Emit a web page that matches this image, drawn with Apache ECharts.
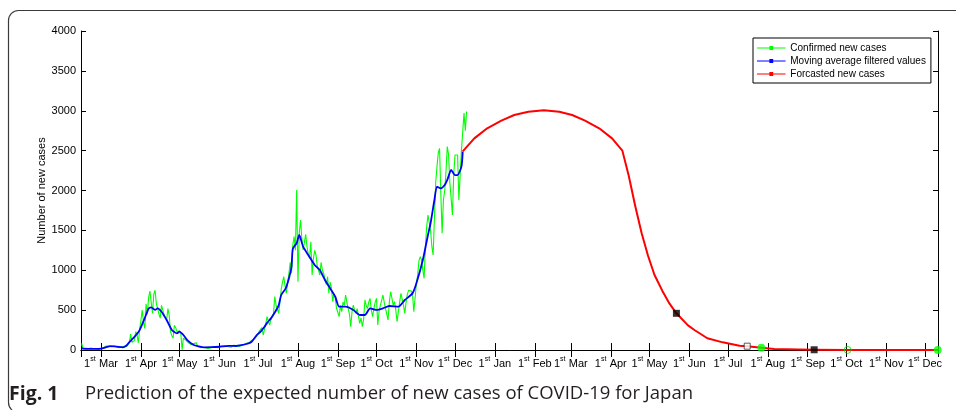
<!DOCTYPE html>
<html><head><meta charset="utf-8">
<script src="https://cdn.jsdelivr.net/npm/echarts@6/dist/echarts.min.js"></script>
<style>html,body{margin:0;padding:0;background:#fff}#c{width:956px;height:410px}</style>
</head><body><div id="c"></div>
<script>
// ---------- DATA ----------
const seriesNames = ['Confirmed new cases', 'Moving average filtered values', 'Forcasted new cases'];
const monthNames = ['Jan','Feb','Mar','Apr','May','Jun','Jul','Aug','Sep','Oct','Nov','Dec'];
const yTicks = [0, 500, 1000, 1500, 2000, 2500, 3000, 3500, 4000];

// daily confirmed new cases, starting 2020-02-15
const confirmedStart = [2020, 2, 15];
const confirmed = [
  84,12,20,10,18,15,20,25,12,18,22,15,20,10,18,
  15,25,30,35,50,60,45,55,40,35,50,60,40,45,30,20,40,35,45,40,45,40,90,200,95,100,120,230,190,90,260,
  370,500,350,270,580,450,660,740,600,460,700,750,580,520,450,400,560,580,440,440,380,520,430,230,180,150,310,280,230,210,
  240,200,5,150,130,120,104,90,100,70,60,80,55,90,50,45,30,25,35,40,30,25,20,15,25,35,40,55,35,45,30,
  35,50,40,45,30,55,45,40,60,35,50,60,45,55,50,40,60,55,65,70,60,85,75,90,110,120,105,140,120,170,
  200,240,220,280,188,260,330,418,360,313,380,420,460,669,560,520,460,600,760,850,919,800,711,850,962,1100,962,1317,1421,1250,2006,
  857,1463,1630,1400,1254,1350,1450,1300,1200,1150,1358,940,1150,1250,1191,1050,1000,940,1100,1000,960,878,820,919,711,850,780,606,700,650,520,
  470,418,560,480,600,560,690,600,520,450,292,480,564,500,460,520,420,334,400,292,380,627,560,520,600,648,500,418,520,600,
  648,313,480,560,620,690,600,520,450,376,600,731,650,560,606,500,355,480,600,711,690,560,460,600,700,750,773,740,700,480,460,
  830,940,1120,1170,1130,1000,899,1300,1546,1693,1693,1500,1300,1191,1650,2100,2300,2470,2529,1950,1463,1880,2000,2236,2550,2450,2100,1900,1693,2200,
  2445,2420,2445,1880,1900,2500,2740,2970,2750,2990
];

// moving average filtered values
const avgDates = ['2020-02-15','2020-02-20','2020-02-25','2020-03-01','2020-03-05','2020-03-08','2020-03-13','2020-03-18','2020-03-21','2020-03-23',
  '2020-03-27','2020-03-31','2020-04-04','2020-04-07','2020-04-09','2020-04-12','2020-04-14','2020-04-17','2020-04-21','2020-04-25',
  '2020-04-29','2020-05-01','2020-05-04','2020-05-07','2020-05-12','2020-05-16','2020-05-20','2020-05-26','2020-06-01','2020-06-08',
  '2020-06-14','2020-06-18','2020-06-22','2020-06-26','2020-06-30','2020-07-03','2020-07-06','2020-07-08','2020-07-11','2020-07-14',
  '2020-07-17','2020-07-19','2020-07-22','2020-07-23','2020-07-25','2020-07-27','2020-07-28','2020-07-31','2020-08-02','2020-08-05',
  '2020-08-09','2020-08-14','2020-08-18','2020-08-22','2020-08-26','2020-08-30','2020-09-02','2020-09-07','2020-09-13','2020-09-18',
  '2020-09-22','2020-09-26','2020-10-01','2020-10-06','2020-10-11','2020-10-18','2020-10-23','2020-10-29','2020-11-01','2020-11-06',
  '2020-11-10','2020-11-12','2020-11-15','2020-11-17','2020-11-20','2020-11-23','2020-11-25','2020-11-28','2020-12-01','2020-12-03',
  '2020-12-06','2020-12-07'];
const avgValues = [20,15,14,18,35,48,42,33,60,100,
  165,250,400,520,535,502,522,480,376,251,
  209,230,188,125,63,45,33,35,41,52,
  50,60,75,104,188,230,292,340,397,470,
  560,690,760,794,900,1045,1270,1340,1442,1295,
  1191,1066,1003,878,773,669,543,543,502,439,
  439,522,502,522,552,543,627,710,836,1129,
  1442,1589,1881,2048,2027,2069,2132,2257,2194,2194,
  2299,2487];

// forecasted new cases
const fcDates = ['2020-12-07','2020-12-16','2020-12-26','2021-01-06','2021-01-16','2021-01-27','2021-02-08','2021-02-20','2021-03-02','2021-03-12',
  '2021-03-23','2021-04-02','2021-04-10','2021-04-15','2021-04-20','2021-04-25','2021-04-30','2021-05-05','2021-05-11','2021-05-16',
  '2021-05-22','2021-05-31','2021-06-05','2021-06-15','2021-06-27','2021-07-10','2021-07-16','2021-07-27','2021-08-06','2021-08-25',
  '2021-09-06','2021-10-02','2021-11-01','2021-12-11'];
const fcValues = [2490,2654,2780,2876,2947,2988,3005,2988,2947,2876,
  2780,2654,2500,2182,1806,1463,1179,940,744,598,
  460,309,251,147,96,54,48,29,14,5,
  3,1,0,0];

// highlighted points on the forecast
const markDates = ['2021-05-22','2021-07-16','2021-07-27','2021-09-06','2021-10-02','2021-12-11'];
const markValues = [460, 48, 29, 3, 1, 0];
const markKinds = ['blackSquare','openSquare','greenDot','blackSquare','openCircle','greenDot'];

// ---------- CHART ----------
function parseD(s){ const p = s.split('-').map(Number); return new Date(p[0], p[1]-1, p[2]).getTime(); }
const confirmedData = confirmed.map((v,i)=>[new Date(confirmedStart[0], confirmedStart[1]-1, confirmedStart[2]+i).getTime(), v]);
const avgData = avgDates.map((d,i)=>[parseD(d), avgValues[i]]);
const fcData = fcDates.map((d,i)=>[parseD(d), fcValues[i]]);
const kindStyle = {
  blackSquare: {symbol:'rect', symbolSize:7, itemStyle:{color:'#000', borderColor:'#000', borderWidth:0}},
  openSquare: {symbol:'rect', symbolSize:6, itemStyle:{color:'#fff', borderColor:'#333', borderWidth:1}},
  greenDot: {symbol:'circle', symbolSize:8, itemStyle:{color:'#00ff00', borderColor:'#00ff00', borderWidth:0}},
  openCircle: {symbol:'circle', symbolSize:7, itemStyle:{color:'rgba(255,255,255,0)', borderColor:'#00dd00', borderWidth:1}}
};
const markData = markDates.map((d,i)=>Object.assign({value:[parseD(d), markValues[i]]}, kindStyle[markKinds[i]]));

const DAY = 86400000;
const xMin = new Date(2020, 1, 14, 11).getTime();
const xMax = new Date(2021, 11, 11, 5).getTime();
const FONT = '"Liberation Sans", Arial, sans-serif';

function xLabel(v){
  const d = new Date(v);
  if (d.getDate() !== 1 || d.getHours() !== 0) return '';
  return '{n|1}{s|st} {n|' + monthNames[d.getMonth()] + '}';
}
const legendIcon = 'path://M0,1.6H13V0H17V1.6H30V2.6H17V4.2H13V2.6H0Z';

const xAxisBase = {
  type:'time', min:xMin, max:xMax, minInterval:28*DAY, maxInterval:31*DAY,
  splitLine:{show:false},
  axisLine:{show:true, lineStyle:{color:'#000', width:1}},
  axisTick:{show:true, inside:true, length:7, lineStyle:{color:'#000'}}
};
const yAxisBase = {
  type:'value', min:yTicks[0], max:yTicks[yTicks.length-1], interval:yTicks[1]-yTicks[0],
  splitLine:{show:false},
  axisLine:{show:true, lineStyle:{color:'#000', width:1}},
  axisTick:{show:true, inside:true, length:5, lineStyle:{color:'#000'}}
};

const chart = echarts.init(document.getElementById('c'), null, {renderer:'canvas'});
chart.setOption({
  animation:false,
  backgroundColor:'#fff',
  textStyle:{fontFamily:FONT},
  grid:{left:81, right:18, top:31, bottom:60, containLabel:false},
  legend:{
    data:seriesNames, orient:'vertical', left:753, top:38,
    backgroundColor:'#fff', borderColor:'#000', borderWidth:1, borderRadius:0,
    padding:[4,5,3,4], itemGap:1, itemWidth:30, itemHeight:4, icon:legendIcon,
    textStyle:{fontFamily:FONT, fontSize:10, color:'#000', lineHeight:12, padding:[0,0,0,-1]},
    selectedMode:false
  },
  xAxis:[
    Object.assign({}, xAxisBase, {position:'bottom', axisLabel:{show:true, formatter:xLabel, hideOverlap:false, margin:6, color:'#000',
      rich:{n:{fontSize:11, fontFamily:FONT, color:'#000', lineHeight:13, verticalAlign:'bottom'},
            s:{fontSize:7, fontFamily:FONT, color:'#000', lineHeight:13, verticalAlign:'top'}}}}),
    Object.assign({}, xAxisBase, {position:'top', axisLabel:{show:false}})
  ],
  yAxis:[
    Object.assign({}, yAxisBase, {position:'left', name:'Number of new cases', nameLocation:'middle', nameGap:34, nameMoveOverlap:false,
      nameTextStyle:{fontSize:11, color:'#000', fontFamily:FONT},
      axisLabel:{show:true, fontSize:11, color:'#000', margin:5, fontFamily:FONT, formatter:(v)=>String(v)}}),
    Object.assign({}, yAxisBase, {position:'right', axisLabel:{show:false}})
  ],
  series:[
    {name:seriesNames[0], type:'line', data:confirmedData, showSymbol:false, symbol:'none', z:2,
      lineStyle:{color:'#00ff00', width:1.1}, itemStyle:{color:'#00ff00'}},
    {name:seriesNames[1], type:'line', data:avgData, showSymbol:false, symbol:'none', smooth:0.2, z:3,
      lineStyle:{color:'#0000ff', width:1.8}, itemStyle:{color:'#0000ff'}},
    {name:seriesNames[2], type:'line', data:fcData, showSymbol:false, symbol:'none', smooth:false, z:3,
      lineStyle:{color:'#ff0000', width:2, join:'round'}, itemStyle:{color:'#ff0000'}},
    {name:'markers', type:'scatter', data:markData, z:6, clip:false}
  ],
  graphic:[
    {type:'rect', shape:{x:8.5, y:10.5, width:1000, height:402, r:10}, silent:true, z:-1,
      style:{fill:'none', stroke:'#3a3a3a', lineWidth:1.2}},
    {type:'text', left:9, top:384, silent:true,
      style:{text:'Fig. 1', font:'bold 19.5px "Open Sans", sans-serif', fill:'#231f20'}},
    {type:'text', left:85, top:384, silent:true,
      style:{text:'Prediction of the expected number of new cases of COVID-19 for Japan', font:'18.5px "Open Sans", sans-serif', fill:'#231f20'}}
  ]
});
</script></body></html>
